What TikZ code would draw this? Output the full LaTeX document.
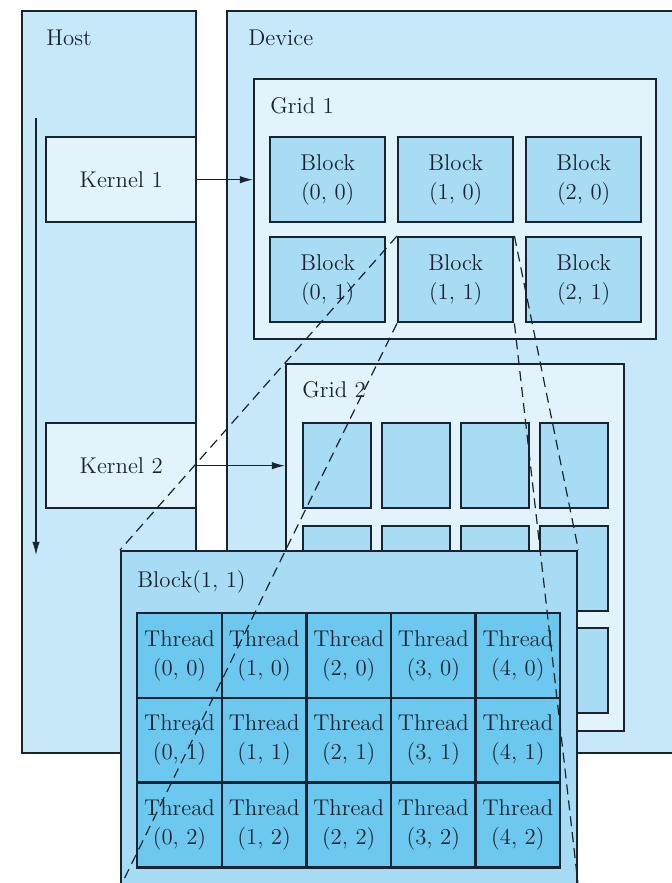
\documentclass[tikz,border=0pt]{standalone}
\usepackage{tikz}
\usetikzlibrary{arrows.meta,positioning}

\definecolor{hostblue}{RGB}{198,232,248}
\definecolor{gridblue}{RGB}{226,243,251}
\definecolor{blockblue}{RGB}{168,220,245}
\definecolor{threadblue}{RGB}{108,200,238}
\definecolor{inkgray}{RGB}{26,36,48}

\begin{document}
\begin{tikzpicture}[
    x=0.5pt, y=-0.5pt,
    every node/.style={text=inkgray, font=\fontsize{11.4}{14.5}\selectfont},
    area/.style={draw=inkgray, line width=1.2pt, anchor=north west, inner sep=0pt, fill=hostblue},
    kernelbox/.style={area, fill=gridblue, minimum width=75pt, minimum height=42.5pt},
    gridbox/.style={area, fill=gridblue},
    blockbox/.style={area, fill=blockblue, align=center, minimum width=57.5pt, minimum height=42.5pt},
    smallblock/.style={area, fill=blockblue, minimum width=34pt, minimum height=42.5pt},
    threadbox/.style={area, fill=threadblue, align=center, minimum width=42.3pt, minimum height=42.35pt},
    caption/.style={anchor=base west, inner sep=0pt},
    arrow/.style={-{Latex[length=2.3mm, width=1.3mm]}, line width=0.6pt, draw=inkgray},
    zoomline/.style={line width=0.6pt, draw=inkgray, dash pattern=on 5pt off 3pt}
]
\clip (0,0) rectangle (672,883);

% host and device
\node[area, minimum width=87pt, minimum height=371pt] (host) at (21,10) {};
\node[area, minimum width=240pt, minimum height=371pt] (device) at (226,10) {};
\node[caption] (hostlbl) at (46,46) {Host};
\node[caption] (devicelbl) at (248,46) {Device};

\coordinate (flowtop) at (36,118);
\coordinate (flowend) at (36,555);
\draw[arrow] (flowtop) -- (flowend);

\node[kernelbox] (kern1) at (45,136) {};
\node (kern1lbl) at (kern1.center) {Kernel 1};
\node[kernelbox] (kern2) at (45,422) {};
\node (kern2lbl) at (kern2.center) {Kernel 2};

% grid 1
\node[gridbox, minimum width=201pt, minimum height=130pt] (grid1) at (253,78) {};
\node[caption] (grid1lbl) at (270,113) {Grid 1};
\foreach \i in {0,1,2}
  \foreach \j in {0,1}
    \node[blockbox] (b-\i-\j) at (269+128*\i, 136+100*\j) {Block\\(\i, \j)};

% grid 2
\node[gridbox, minimum width=169pt, minimum height=183.5pt] (grid2) at (285,363) {};
\node[caption] (grid2lbl) at (302,397) {Grid 2};
\foreach \i in {0,...,3}
  \foreach \j in {0,1,2}
    \node[smallblock] (g2-\i-\j) at (302+79*\i, 422+102.5*\j) {};

\draw[arrow] (kern1.east) -- (kern1.east -| grid1.west);
\draw[arrow] (kern2.east) -- (kern2.east -| grid2.west);

% block (1,1) close-up
\node[area, fill=blockblue, minimum width=228pt, minimum height=167.5pt] (panel) at (120,550) {};
\node[caption] (panellbl) at (137,587) {Block(1, 1)};
\foreach \i in {0,...,4}
  \foreach \j in {0,1,2}
    \node[threadbox] (t-\i-\j) at (136+84.6*\i, 612+84.7*\j) {Thread\\(\i, \j)};

\draw[zoomline] (b-1-1.north west) -- (panel.north west);
\draw[zoomline] (b-1-1.south west) -- (panel.south west);
\draw[zoomline] (b-1-1.north east) -- (panel.north east);
\draw[zoomline] (b-1-1.south east) -- (panel.south east);
\end{tikzpicture}
\end{document}
